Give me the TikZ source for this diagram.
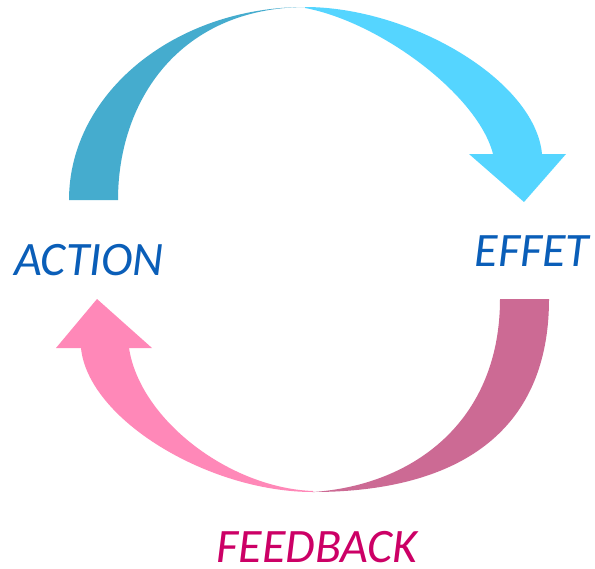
\documentclass[tikz,border=0pt]{standalone}
\usepackage{fontspec}
\setmainfont{Carlito}
\definecolor{bluedark}{HTML}{45ACCE}
\definecolor{bluelight}{HTML}{55D5FF}
\definecolor{pinkdark}{HTML}{CC6A94}
\definecolor{pinklight}{HTML}{FF88B8}
\definecolor{labelblue}{HTML}{0A5EB8}
\definecolor{labelpink}{HTML}{CC0066}
\tikzset{
  lbl/.style={anchor=base, inner sep=0pt, text depth=0pt, font=\fontsize{36}{40}\selectfont\itshape},
}
\begin{document}
\begin{tikzpicture}[x=0.75pt, y=-0.75pt]
\path[use as bounding box, fill=white] (0,0) rectangle (595,568);
% top arrow, back (left) part
\fill[bluedark] (69,200) .. controls (69,93.4) and (174.7,7) .. (305,7)
  .. controls (180,8) and (118,100) .. (118,200) -- cycle;
% top arrow, front (right) part with head
\fill[bluelight] (305,7) .. controls (410,7) and (535,80) .. (542,154)
  -- (566,154) -- (524,202) -- (469,154) -- (493,154)
  .. controls (478,95) and (380,22) .. (305,8) -- cycle;
% bottom arrow, back (right) part
\fill[pinkdark] (549,299) .. controls (549,445) and (440,492) .. (313,492)
  .. controls (415,485) and (500,420) .. (500,299) -- cycle;
% bottom arrow, front (left) part with head
\fill[pinklight] (313,492) .. controls (208,492) and (88,419) .. (81,348)
  -- (56,348) -- (97,299) -- (152,348) -- (129,348)
  .. controls (140,420) and (230,488) .. (313,491) -- cycle;
\node[lbl, text=labelblue] (action) at (89,275) {ACTION};
\node[lbl, text=labelblue] (effet) at (532,266) {EFFET};
\node[lbl, text=labelpink] (feedback) at (317,562) {FEEDBACK};
\end{tikzpicture}
\end{document}
